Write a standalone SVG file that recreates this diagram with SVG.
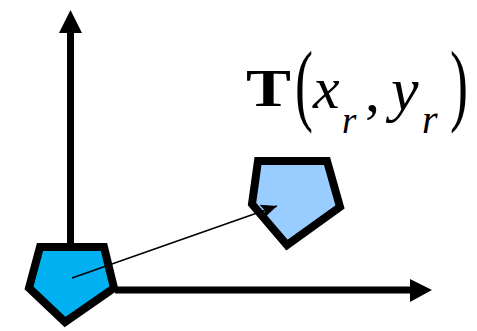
<svg xmlns="http://www.w3.org/2000/svg" width="477" height="331" viewBox="0 0 477 331">
<style>
.axis{stroke:#000;stroke-width:7;fill:none}
.head{fill:#000}
.pent{stroke:#000;stroke-width:8;stroke-linejoin:miter}
.conn{stroke:#000;stroke-width:1.6;fill:none}
.m{font-family:"Liberation Serif","Times New Roman",serif;fill:#000}
</style>
<defs>
<marker id="arr" markerUnits="userSpaceOnUse" markerWidth="18" markerHeight="14" refX="16" refY="7" orient="auto">
<path d="M0,0 L16,7 L0,14 L3,7 Z" fill="#000"/>
</marker>
</defs>
<g id="axes">
<line class="axis" x1="70.5" y1="30" x2="70.5" y2="246"/>
<polygon class="head" points="70.5,10 59,33 82,33"/>
<line class="axis" x1="115" y1="290" x2="412" y2="290"/>
<polygon class="head" points="432,290 410,279 410,302"/>
</g>
<g id="node-origin">
<polygon class="pent" fill="#00B0F0" points="40,247 104,247 114,288 65,322 29,288"/>
</g>
<g id="node-target">
<polygon class="pent" fill="#99CCFF" points="258,161 327,161 340,207 287,245 252,204"/>
</g>
<g id="connectors">
<line class="conn" x1="72" y1="278" x2="277" y2="206" marker-end="url(#arr)"/>
</g>
<g id="label">
<text class="m" x="246" y="106" font-size="53" font-weight="bold" textLength="45" lengthAdjust="spacingAndGlyphs">T</text>
<text class="m" transform="translate(295,114) scale(0.6,1)" font-size="90">(</text>
<text class="m" x="313" y="108" font-size="60" font-style="italic">x</text>
<text class="m" x="342" y="133" font-size="37" font-style="italic">r</text>
<text class="m" x="365" y="111" font-size="60">,</text>
<text class="m" x="391" y="109.5" font-size="62" font-style="italic">y</text>
<text class="m" x="422" y="133" font-size="40" font-style="italic">r</text>
<text class="m" transform="translate(450,114) scale(0.6,1)" font-size="90">)</text>
</g>
</svg>
